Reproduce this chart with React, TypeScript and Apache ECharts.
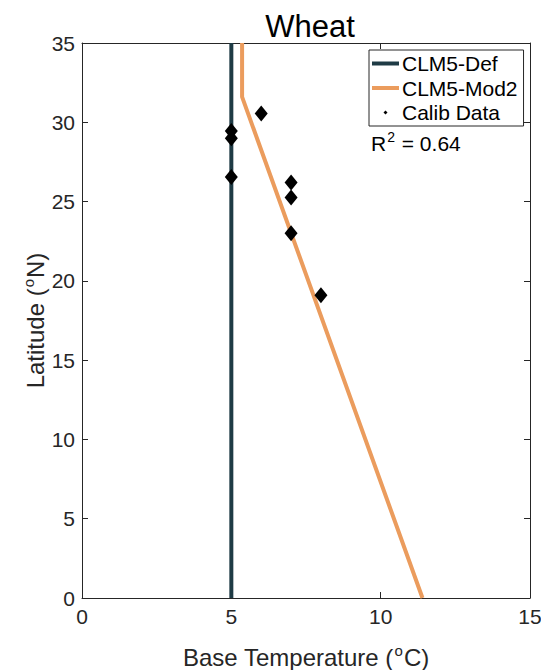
import React, { useEffect, useRef } from "react";
import * as echarts from "echarts";

const defLine: number[][] = [[5, 0], [5, 35]];
const mod2Line: number[][] = [[5.36, 35], [5.36, 31.6], [11.4, 0]];
const calibData: number[][] = [
  [5, 29.45], [5, 29.0], [5, 26.55], [6, 30.55],
  [7, 26.2], [7, 25.25], [7, 23.0], [8, 19.1],
];
const xTicks = [0, 5, 10, 15];
const yTicks = [0, 5, 10, 15, 20, 25, 30, 35];
const r2Text = "0.64";

const FONT = "'Liberation Sans', Arial, Helvetica, sans-serif";
const INK = "#262626";

export default function App() {
  const ref = useRef<HTMLDivElement>(null);
  useEffect(() => {
    if (!ref.current) return;
    const chart = echarts.init(ref.current, undefined, { renderer: "svg" });
    const frame = { show: true, onZero: false, lineStyle: { color: INK, width: 1 } };
    const tick = { show: true, inside: true, length: 6, lineStyle: { color: INK } };
    const supStyle = {
      sup: { fontSize: 15, verticalAlign: "top", lineHeight: 14, padding: [0, 1, 0, 1], color: INK, fontFamily: FONT },
    };
    chart.setOption({
      animation: false,
      textStyle: { fontFamily: FONT },
      title: {
        text: "Wheat",
        left: 305,
        textAlign: "center",
        top: 6,
        textStyle: { fontFamily: FONT, fontSize: 31, fontWeight: "normal", color: "#000" },
      },
      grid: { left: 82, right: 11, top: 43, bottom: 72, containLabel: false, outerBoundsMode: "none" },
      xAxis: [
        {
          type: "value", min: xTicks[0], max: xTicks[xTicks.length - 1], interval: 5,
          axisLine: frame, axisTick: tick, splitLine: { show: false },
          axisLabel: { fontSize: 21, color: INK, margin: 8, fontFamily: FONT },
          name: "Base Temperature ({sup|o}C)",
          nameLocation: "middle", nameGap: 45, nameMoveOverlap: false,
          nameTextStyle: { fontSize: 24, lineHeight: 28, color: INK, fontFamily: FONT, rich: supStyle },
        },
        {
          type: "value", position: "top", min: 0, max: 15, interval: 5,
          axisLine: frame, axisTick: tick, axisLabel: { show: false }, splitLine: { show: false },
        },
      ],
      yAxis: [
        {
          type: "value", min: yTicks[0], max: yTicks[yTicks.length - 1], interval: 5,
          axisLine: frame, axisTick: tick, splitLine: { show: false },
          axisLabel: { fontSize: 21, color: INK, margin: 7, fontFamily: FONT },
          name: "Latitude ({sup|o}N)",
          nameLocation: "middle", nameGap: 33, nameMoveOverlap: false,
          nameTextStyle: { fontSize: 24, lineHeight: 28, color: INK, fontFamily: FONT, rich: supStyle },
        },
        {
          type: "value", position: "right", min: 0, max: 35, interval: 5,
          axisLine: frame, axisTick: tick, axisLabel: { show: false }, splitLine: { show: false },
        },
      ],
      legend: {
        orient: "vertical",
        left: 369,
        top: 50,
        padding: [3, 6, 3, 3],
        itemGap: 3.5,
        itemWidth: 27,
        itemHeight: 4,
        borderColor: INK,
        borderWidth: 1,
        backgroundColor: "#fff",
        textStyle: { fontSize: 21, lineHeight: 21, color: "#000", fontFamily: FONT, padding: [0, 0, 0, -2] },
        data: [
          { name: "CLM5-Def", icon: "rect" },
          { name: "CLM5-Mod2", icon: "rect" },
          { name: "Calib Data", icon: "path://M0,-1 L1,0 L0,1 L-1,0 Z" },
        ],
        selectedMode: false,
      },
      graphic: [
        {
          type: "text",
          left: 371,
          top: 130,
          style: {
            text: "R{sup|2} = " + r2Text,
            fontSize: 21,
            lineHeight: 26,
            fontFamily: FONT,
            fill: "#000",
            rich: { sup: { fontSize: 14, verticalAlign: "top", lineHeight: 13, padding: [0, 1, 0, 1], fontFamily: FONT } },
          },
          z: 10,
        },
      ],
      series: [
        {
          name: "CLM5-Def", type: "line", data: defLine, showSymbol: false, clip: true,
          lineStyle: { color: "#1f3b45", width: 4 }, itemStyle: { color: "#1f3b45" }, z: 2,
        },
        {
          name: "CLM5-Mod2", type: "line", data: mod2Line, showSymbol: false, clip: true,
          lineStyle: { color: "#eb9c5d", width: 4 }, itemStyle: { color: "#eb9c5d" }, z: 3,
        },
        {
          name: "Calib Data", type: "scatter", data: calibData, symbol: "diamond",
          symbolSize: [13, 16], itemStyle: { color: "#000", opacity: 1 }, z: 4,
        },
      ],
    });
    return () => chart.dispose();
  }, []);
  return (
    <div
      ref={ref}
      style={{ position: "absolute", left: 0, top: 0, width: 541, height: 670, background: "#fff" }}
    />
  );
}
